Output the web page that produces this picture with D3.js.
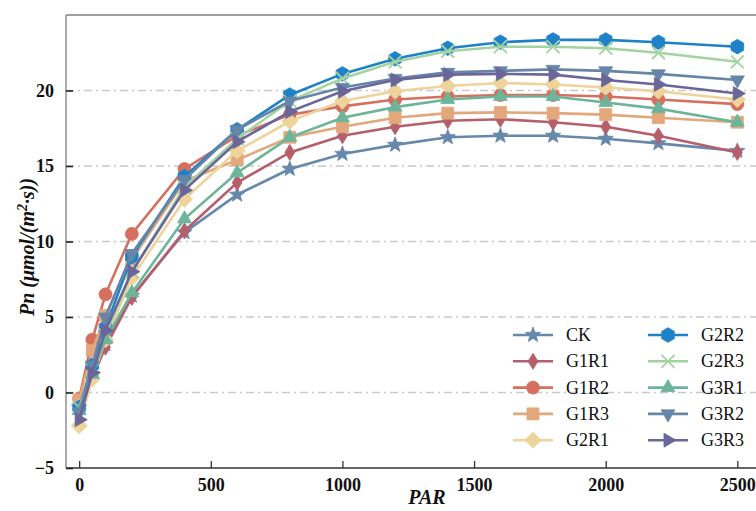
<!DOCTYPE html>
<html><head><meta charset="utf-8">
<script src="https://cdn.jsdelivr.net/npm/d3@7"></script>
<style>body{margin:0;background:#fff}svg{display:block}</style>
</head><body><svg id="c" width="756" height="511"></svg>
<script>
const par = [0, 50, 100, 200, 400, 600, 800, 1000, 1200, 1400, 1600, 1800, 2000, 2200, 2500];
const seriesNames = ["CK","G1R1","G1R2","G1R3","G2R1","G2R2","G2R3","G3R1","G3R2","G3R3"];
const CK   = [-1.0, 1.2, 3.2, 6.4, 10.6, 13.1, 14.8, 15.8, 16.4, 16.9, 17.0, 17.0, 16.8, 16.5, 16.0];
const G1R1 = [-1.0, 1.0, 3.0, 6.3, 10.7, 13.9, 15.9, 17.0, 17.6, 18.0, 18.1, 17.9, 17.6, 17.0, 15.9];
const G1R2 = [-0.4, 3.5, 6.5, 10.5, 14.8, 17.0, 18.4, 18.95, 19.4, 19.6, 19.7, 19.7, 19.6, 19.4, 19.1];
const G1R3 = [-0.5, 2.8, 5.1, 8.8, 14.0, 15.4, 16.9, 17.6, 18.2, 18.5, 18.55, 18.5, 18.4, 18.2, 17.9];
const G2R1 = [-2.2, 0.9, 3.5, 7.6, 12.8, 16.0, 17.96, 19.3, 19.95, 20.3, 20.5, 20.4, 20.2, 19.95, 19.4];
const G2R2 = [-1.0, 1.8, 4.3, 9.0, 14.3, 17.4, 19.7, 21.1, 22.1, 22.8, 23.2, 23.35, 23.35, 23.2, 22.9];
const G2R3 = [-1.0, 1.5, 3.8, 8.0, 13.6, 16.8, 19.3, 20.8, 21.9, 22.6, 22.9, 22.9, 22.8, 22.5, 21.9];
const G3R1 = [-1.2, 1.2, 3.5, 6.6, 11.5, 14.55, 16.9, 18.2, 18.9, 19.4, 19.6, 19.6, 19.2, 18.8, 17.9];
const G3R2 = [-1.3, 1.8, 5.0, 9.2, 14.1, 17.4, 19.3, 20.2, 20.8, 21.2, 21.3, 21.4, 21.3, 21.1, 20.7];
const G3R3 = [-1.8, 1.3, 4.1, 8.0, 13.4, 16.6, 18.6, 19.95, 20.7, 21.05, 21.1, 21.05, 20.7, 20.4, 19.8];
const seriesValues = [CK, G1R1, G1R2, G1R3, G2R1, G2R2, G2R3, G3R1, G3R2, G3R3];
const xTicks = [0, 500, 1000, 1500, 2000, 2500];
const yTicks = [-5, 0, 5, 10, 15, 20];
const gridValues = [0, 5, 10, 15, 20];

const colors = ["#6788ab","#b65f6c","#d5705f","#e3a77c","#eed39b","#1f82c9","#a4d3a2","#6db59a","#6686a8","#6b6699"];
const markers = ["star","thindiamond","circle","square","diamond","hexagon","x","triup","tridown","triright"];
const FONT = "Liberation Serif";

const svg = d3.select("#c");
const L = 66, R = 770, T = 15, B = 468;
const x = d3.scaleLinear().domain([-50, 2624]).range([L, R]);
const y = d3.scaleLinear().domain([-5, 25]).range([B, T]);

function markerPath(type, s) {
  const p = d3.path();
  function poly(pts){ pts.forEach((q,i)=> i? p.lineTo(q[0],q[1]) : p.moveTo(q[0],q[1])); p.closePath(); }
  if (type === "circle") { p.arc(0,0,s*0.5,0,2*Math.PI); }
  else if (type === "square") { const h=s*0.46; poly([[-h,-h],[h,-h],[h,h],[-h,h]]); }
  else if (type === "diamond") { const h=s*0.62; poly([[0,-h],[h,0],[0,h],[-h,0]]); }
  else if (type === "thindiamond") { const h=s*0.62, w=s*0.38; poly([[0,-h],[w,0],[0,h],[-w,0]]); }
  else if (type === "hexagon") { const r=s*0.56; const pts=[]; for(let i=0;i<6;i++){const a=Math.PI/2+i*Math.PI/3; pts.push([r*Math.cos(a), -r*Math.sin(a)]);} poly(pts); }
  else if (type === "triup") { const r=s*0.62; poly([[0,-r],[r*0.866,r*0.5],[-r*0.866,r*0.5]]); }
  else if (type === "tridown") { const r=s*0.62; poly([[0,r],[r*0.866,-r*0.5],[-r*0.866,-r*0.5]]); }
  else if (type === "triright") { const r=s*0.62; poly([[r,0],[-r*0.5,r*0.866],[-r*0.5,-r*0.866]]); }
  else if (type === "star") { const ro=s*0.62, ri=ro*0.42; const pts=[]; for(let i=0;i<10;i++){const r=i%2?ri:ro; const a=-Math.PI/2+i*Math.PI/5; pts.push([r*Math.cos(a), r*Math.sin(a)]);} poly(pts); }
  else if (type === "x") { const h=s*0.5; p.moveTo(-h,-h); p.lineTo(h,h); p.moveTo(h,-h); p.lineTo(-h,h); }
  return p.toString();
}

// grid
svg.append("g").selectAll("line").data(gridValues).join("line")
  .attr("x1", L).attr("x2", 756).attr("y1", d=>y(d)).attr("y2", d=>y(d))
  .attr("stroke", "#c9c9c9").attr("stroke-width", 1.6).attr("stroke-dasharray", "8,4,2,4");

// frame
svg.append("line").attr("x1", L).attr("x2", 760).attr("y1", T).attr("y2", T).attr("stroke", "#7f7f7f").attr("stroke-width", 1.3);
svg.append("line").attr("x1", L).attr("x2", L).attr("y1", T).attr("y2", B).attr("stroke", "#7f7f7f").attr("stroke-width", 1.3);

// axes
const xAxis = d3.axisBottom(x).tickValues(xTicks).tickSizeInner(-7).tickSizeOuter(0).tickPadding(10).tickFormat(d3.format("d"));
const gx = svg.append("g").attr("transform", `translate(0,${B})`).call(xAxis);
gx.select(".domain").attr("stroke", "#333").attr("stroke-width", 1.3).attr("d", `M${L},0H760`);
gx.selectAll(".tick line").attr("stroke", "#333").attr("stroke-width", 1.3);
gx.selectAll(".tick text").style("font-family", FONT).style("font-weight", "bold").style("font-size", "18px").attr("fill", "#111");

const yAxis = d3.axisLeft(y).tickValues(yTicks).tickSizeInner(-7).tickSizeOuter(0).tickPadding(12).tickFormat(d => d < 0 ? "\u2212" + Math.abs(d) : d);
const gy = svg.append("g").attr("transform", `translate(${L},0)`).call(yAxis);
gy.select(".domain").remove();
gy.selectAll(".tick line").attr("stroke", "#222").attr("stroke-width", 1.6);
gy.selectAll(".tick text").style("font-family", FONT).style("font-weight", "bold").style("font-size", "18px").attr("fill", "#111");

// series
const line = d3.line().x((d,i)=>x(par[i])).y(d=>y(d));
seriesValues.forEach((vals, k) => {
  const g = svg.append("g");
  g.append("path").attr("d", line(vals)).attr("fill", "none").attr("stroke", colors[k]).attr("stroke-width", 2.6);
  g.selectAll("path.m").data(vals).join("path").attr("class","m")
    .attr("transform", (d,i)=>`translate(${x(par[i])},${y(d)})`)
    .attr("d", markerPath(markers[k], 13))
    .attr("fill", markers[k]==="x" ? "none" : colors[k])
    .attr("stroke", colors[k]).attr("stroke-width", markers[k]==="x" ? 1.8 : 0.8);
});

// axis labels
svg.append("text").attr("x", 427).attr("y", 504).attr("text-anchor", "middle")
  .style("font-family", FONT).style("font-weight", "bold").style("font-style", "italic").style("font-size", "20px").attr("fill", "#111")
  .text("PAR");
const yl = svg.append("text").attr("transform", "translate(34,247) rotate(-90)").attr("text-anchor", "middle")
  .style("font-family", FONT).style("font-weight", "bold").style("font-style", "italic").style("font-size", "20px").attr("fill", "#111");
yl.append("tspan").text("Pn (\u03bcmol/(m");
yl.append("tspan").attr("baseline-shift", "super").style("font-size", "14px").text("2");
yl.append("tspan").text("\u00b7s))");

// legend
const leg = svg.append("g");
seriesNames.forEach((name, k) => {
  const col = Math.floor(k/5), row = k%5;
  const lx = 513 + col*135, ly = 335 + row*26.3;
  leg.append("line").attr("x1", lx).attr("x2", lx+40).attr("y1", ly).attr("y2", ly).attr("stroke", colors[k]).attr("stroke-width", 2.6);
  leg.append("path").attr("transform", `translate(${lx+20},${ly})`).attr("d", markerPath(markers[k], 13))
    .attr("fill", markers[k]==="x" ? "none" : colors[k]).attr("stroke", colors[k]).attr("stroke-width", markers[k]==="x" ? 1.8 : 0.8);
  leg.append("text").attr("x", lx+53).attr("y", ly+6).style("font-family", FONT).style("font-size", "18px").attr("fill", "#111").text(name);
});
</script></body></html>
